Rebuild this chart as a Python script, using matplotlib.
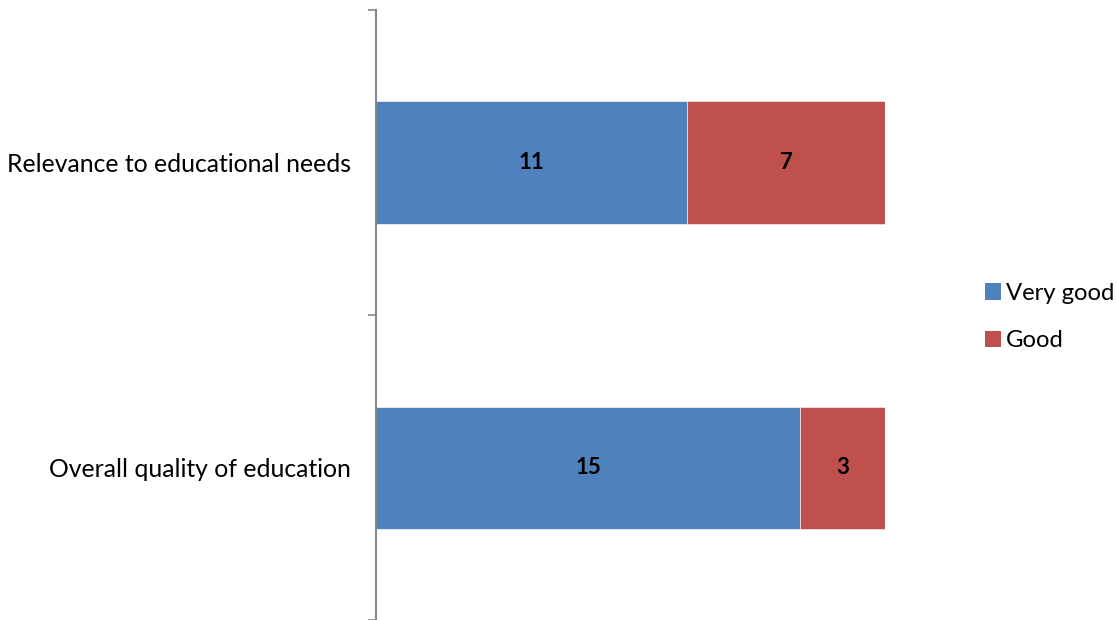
import matplotlib.pyplot as plt
from matplotlib.patches import Patch

categories = ["Overall quality of education", "Relevance to educational needs"]
very_good = [15, 11]
good = [3, 7]
series_names = ["Very good", "Good"]
colors = ["#4F81BD", "#C0504D"]

plt.rcParams['font.family'] = ['Lato', 'DejaVu Sans']

fig = plt.figure(figsize=(11.17, 6.2), dpi=100)
ax = fig.add_axes([376 / 1117, 0, (885 - 376) / 1117, 610 / 620])

pos = list(range(len(categories)))
ax.barh(pos, very_good, height=0.4, color=colors[0], edgecolor="#e8eef6", linewidth=0.6)
ax.barh(pos, good, left=very_good, height=0.4, color=colors[1], edgecolor="#f3dede", linewidth=0.6)

for i in pos:
    ax.text(very_good[i] / 2, i, str(very_good[i]), ha="center", va="center",
            fontsize=16, fontweight="bold", color="black")
    ax.text(very_good[i] + good[i] / 2, i, str(good[i]), ha="center", va="center",
            fontsize=16, fontweight="bold", color="black")

ax.set_xlim(0, 18)
ax.set_ylim(-0.5, 1.5)
ax.set_xticks([])
ax.set_yticks(pos)
ax.set_yticklabels(categories, fontsize=17.8)
ax.set_yticks([-0.5, 0.5, 1.5], minor=True)
ax.tick_params(axis="y", which="major", length=0, pad=18)
ax.tick_params(axis="y", which="minor", length=6, width=1.2, color="#868686")

for s in ["top", "right", "bottom"]:
    ax.spines[s].set_visible(False)
ax.spines["left"].set_color("#868686")
ax.spines["left"].set_linewidth(1.5)

handles = [Patch(facecolor=c, edgecolor="none") for c in colors]
fig.legend(handles, series_names, loc="center left", bbox_to_anchor=(985 / 1117, 1 - 317 / 620),
           frameon=False, fontsize=17.2, handlelength=0.67, handleheight=0.67,
           handletextpad=0.2, labelspacing=1.1, borderpad=0, borderaxespad=0)

fig.savefig("out.png", dpi=100)
